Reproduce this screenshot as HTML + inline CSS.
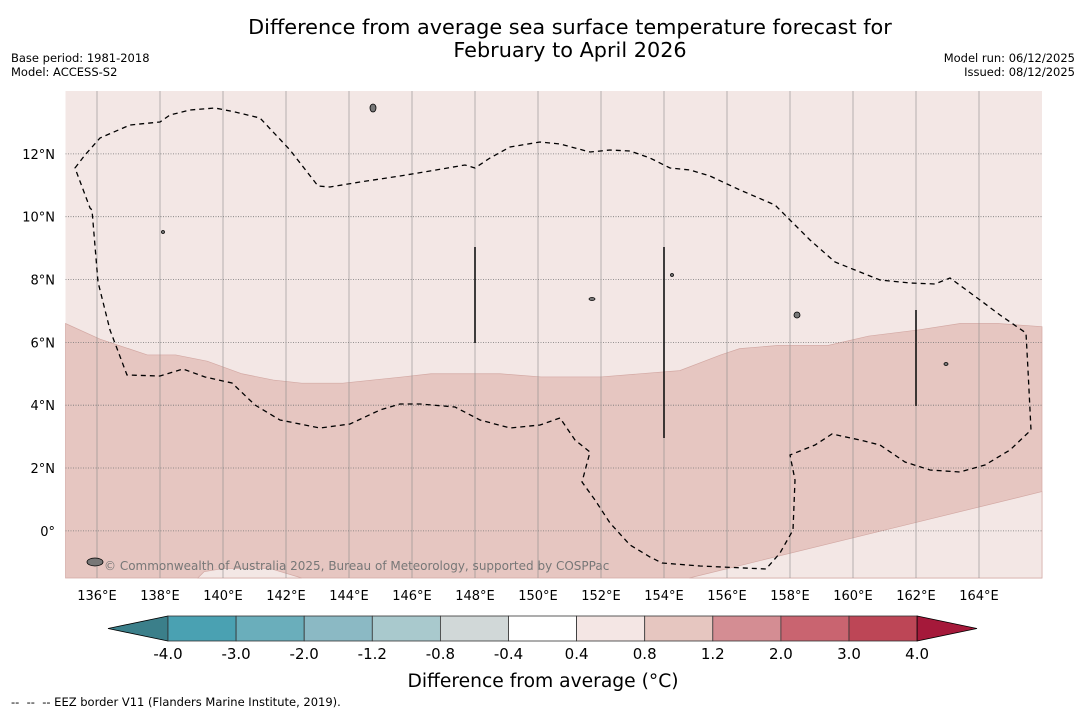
<!DOCTYPE html>
<html><head><meta charset="utf-8"><style>
body{margin:0;background:#fff;font-family:"DejaVu Sans","Liberation Sans",sans-serif}
svg{display:block}
</style></head><body>
<svg id="c" width="1085" height="713" xmlns="http://www.w3.org/2000/svg" font-family="DejaVu Sans, Liberation Sans, sans-serif">
<text x="570" y="34" font-size="20.8" text-anchor="middle">Difference from average sea surface temperature forecast for</text>
<text x="570" y="57" font-size="20.8" text-anchor="middle">February to April 2026</text>
<text x="11" y="62" font-size="11.5">Base period: 1981-2018</text>
<text x="11" y="76" font-size="11.5">Model: ACCESS-S2</text>
<text x="1075" y="62" font-size="11.5" text-anchor="end">Model run: 06/12/2025</text>
<text x="1075" y="76" font-size="11.5" text-anchor="end">Issued: 08/12/2025</text>
<g id="map"></g>
<g id="cbar"></g>
<text x="543" y="687" font-size="18.7" text-anchor="middle">Difference from average (°C)</text>
<text x="11" y="706" font-size="11.5" xml:space="preserve" style="white-space:pre">--  --  -- EEZ border V11 (Flanders Marine Institute, 2019).</text>
</svg>
<script>
const lonTicks=[136,138,140,142,144,146,148,150,152,154,156,158,160,162,164];
const latTicks=[0,2,4,6,8,10,12];
const upperLon=[135,136.1,137,137.6,138.5,139.5,140.6,141.6,142.5,143.8,145.7,146.6,148.8,150.1,152,154.5,155.8,156.4,157.6,159.2,160.5,162.1,163.4,164.6,166];
const upperLat=[6.6,6.1,5.8,5.6,5.6,5.4,5.0,4.8,4.7,4.7,4.9,5.0,5.0,4.9,4.9,5.1,5.6,5.8,5.9,5.9,6.2,6.4,6.6,6.6,6.5];
const bumpLon=[139.2,139.4,140,141.5,142.5];
const bumpLat=[-1.5,-1.3,-1.2,-1.2,-1.5];
const rightLon=[154.8,166,166];
const rightLat=[-1.5,1.25,-1.5];
const cbLevels=["-4.0","-3.0","-2.0","-1.2","-0.8","-0.4","0.4","0.8","1.2","2.0","3.0","4.0"];
const cbColors=["#4aa1b2","#6aaebb","#8bb9c4","#a9c9cd","#d1d8d8","#ffffff","#f4e6e4","#e6c6c0","#d48d93","#c96470","#bd4656"];
const x0=65.5,y0=91,W=976.5,H=487,lonMin=135,lonMax=166,latMin=-1.5,latMax=14;
const X=l=>x0+(l-lonMin)/(lonMax-lonMin)*W;
const Y=l=>y0+(latMax-l)/(latMax-latMin)*H;
const NS="http://www.w3.org/2000/svg";
function mk(t,a,p){const e=document.createElementNS(NS,t);for(const k in a)e.setAttribute(k,a[k]);p.appendChild(e);return e;}
const map=document.getElementById('map');
let r=mk('rect',{x:x0,y:y0,width:W,height:H,fill:'#f3e7e5'},map);

let pts=upperLon.map((l,i)=>X(l)+','+Y(upperLat[i]));
pts.push(X(166)+','+Y(-1.5));pts.push(X(135)+','+Y(-1.5));
let dp=mk('polygon',{points:pts.join(' '),fill:'#e6c6c1',stroke:'#d3a9a4','stroke-width':0.7},map);

let b=mk('polygon',{points:bumpLon.map((l,i)=>X(l)+','+Y(bumpLat[i])).join(' '),fill:'#f3e7e5',stroke:'#d3a9a4','stroke-width':0.7},map);

let rr=mk('polygon',{points:rightLon.map((l,i)=>X(l)+','+Y(rightLat[i])).join(' '),fill:'#f3e7e5',stroke:'#d3a9a4','stroke-width':0.7},map);

lonTicks.forEach(l=>{const g=mk('line',{x1:X(l),x2:X(l),y1:y0,y2:y0+H,stroke:'#8a8a8a','stroke-width':0.6},map);

const t=mk('text',{x:X(l),y:600,'font-size':13,'text-anchor':'middle'},map);t.textContent=l+'°E';
});
latTicks.forEach(l=>{const g=mk('line',{x1:x0,x2:x0+W,y1:Y(l),y2:Y(l),stroke:'#777','stroke-width':0.8,'stroke-dasharray':'1,1.5'},map);

const t=mk('text',{x:55,y:Y(l)+5,'font-size':13,'text-anchor':'end'},map);t.textContent=l===0?'0°':l+'°N';
});
const eez="M75,168 L85,155 L100,138 L130,125 L160,122 L170,115 L190,110 L215,108 L235,112 L260,118 L290,150 L318,186 L330,187 L360,182 L400,176 L430,171 L465,165 L475,168 L490,158 L510,147 L540,142 L560,144 L590,152 L610,150 L630,151 L650,158 L670,168 L690,170 L710,176 L740,190 L775,205 L790,220 L810,240 L835,262 L855,270 L880,280 L910,283 L935,284 L950,278 L980,300 L1000,315 L1026,333 L1028,370 L1031,430 L1010,450 L985,465 L960,472 L930,470 L905,462 L880,445 L860,440 L832,434 L815,445 L790,455 L795,480 L793,530 L780,553 L766,569 L700,566 L662,563 L650,557 L630,545 L610,523 L595,500 L582,482 L590,452 L575,440 L560,418 L540,425 L510,428 L480,420 L455,407 L420,404 L400,404 L380,410 L350,424 L320,428 L280,420 L255,405 L232,383 L205,377 L183,369 L160,376 L127,375 L110,330 L98,282 L92,210 L90,208 Z";
let e=mk('path',{d:eez,fill:'none',stroke:'#000','stroke-width':1.3,'stroke-dasharray':'5,4'},map);

[[475,247,343],[664,247,438],[916,310,406]].forEach(v=>{const l=mk('line',{x1:v[0],x2:v[0],y1:v[1],y2:v[2],stroke:'#111','stroke-width':1.6},map);
});
[[373,108,3,4],[797,315,3,3],[946,364,2,1.5],[95,562,8,4],[592,299,3,1.5],[672,275,1.5,1.5],[163,232,1.5,1.5]].forEach(s=>{const i=mk('ellipse',{cx:s[0],cy:s[1],rx:s[2],ry:s[3],fill:'#777',stroke:'#000','stroke-width':0.8},map);
});
const ct=mk('text',{x:104,y:570,'font-size':12,fill:'#777'},map);ct.textContent='© Commonwealth of Australia 2025, Bureau of Meteorology, supported by COSPPac';

const cb=document.getElementById('cbar');
const cx0=168,cw=68.1,cy=616,ch=25;
let lt=mk('polygon',{points:`${cx0},${cy} ${cx0},${cy+ch} 108,${cy+ch/2}`,fill:'#3b7f8a',stroke:'#000','stroke-width':0.8},cb);

cbColors.forEach((c,i)=>{const q=mk('rect',{x:cx0+i*cw,y:cy,width:cw,height:ch,fill:c,stroke:'#333','stroke-width':0.8},cb);
});
const xe=cx0+cbColors.length*cw;
let rt=mk('polygon',{points:`${xe},${cy} ${xe},${cy+ch} 977,${cy+ch/2}`,fill:'#a5193a',stroke:'#000','stroke-width':0.8},cb);

cbLevels.forEach((v,i)=>{const t=mk('text',{x:cx0+i*cw,y:659,'font-size':15,'text-anchor':'middle'},cb);t.textContent=v;
});
</script>
</body></html>
